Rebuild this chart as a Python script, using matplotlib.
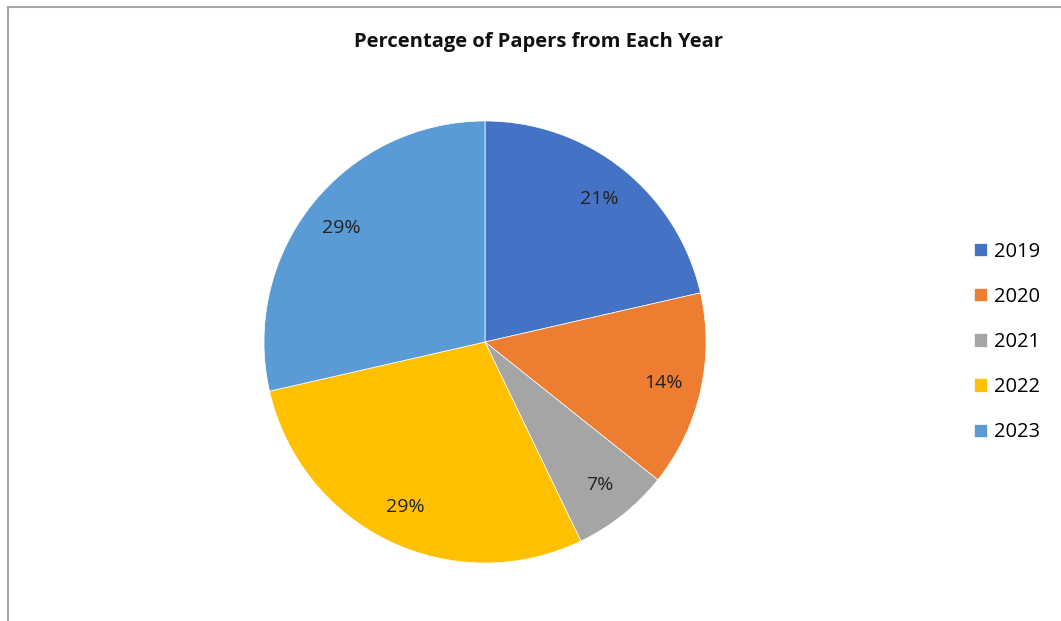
import matplotlib
matplotlib.use('Agg')
import matplotlib.pyplot as plt
from matplotlib.lines import Line2D

years = ['2019', '2020', '2021', '2022', '2023']
papers = [3, 2, 1, 4, 4]
colors = ['#4472C4', '#ED7D31', '#A5A5A5', '#FFC000', '#5B9BD5']

plt.rcParams['font.family'] = ['Open Sans', 'DejaVu Sans']

W, H = 1061, 621
fig = plt.figure(figsize=(W / 100, H / 100), dpi=100)

# outer chart frame (left and top edges visible)
fig.add_artist(Line2D([8 / W, 8 / W], [0, 1 - 7 / H], transform=fig.transFigure, color='#a6a6a6', lw=1.5))
fig.add_artist(Line2D([8 / W, 1], [1 - 7 / H, 1 - 7 / H], transform=fig.transFigure, color='#a6a6a6', lw=1.5))

cx, cy, r = 485, 342, 221
ax = fig.add_axes([(cx - r) / W, (H - cy - r) / H, 2 * r / W, 2 * r / H])
wedges, texts, autotexts = ax.pie(papers, colors=colors, startangle=90, counterclock=False,
                                  autopct='%1.0f%%', pctdistance=0.83, radius=1,
                                  wedgeprops=dict(edgecolor='white', linewidth=0.5),
                                  textprops=dict(fontsize=14, color='#222222'))
ax.set_xlim(-1, 1)
ax.set_ylim(-1, 1)
ax.set_aspect('equal')

fig.text(538 / W, 1 - 42 / H, 'Percentage of Papers from Each Year', ha='center', va='center',
         fontsize=14.5, fontweight='bold', color='#111111')

fig.legend(wedges, years, loc='center left', bbox_to_anchor=(964 / W, 1 - 342 / H),
           frameon=False, fontsize=14.5, handlelength=0.65, handleheight=0.65,
           handletextpad=0.35, labelspacing=1.25, borderpad=0)

fig.savefig('out.png', dpi=100)
